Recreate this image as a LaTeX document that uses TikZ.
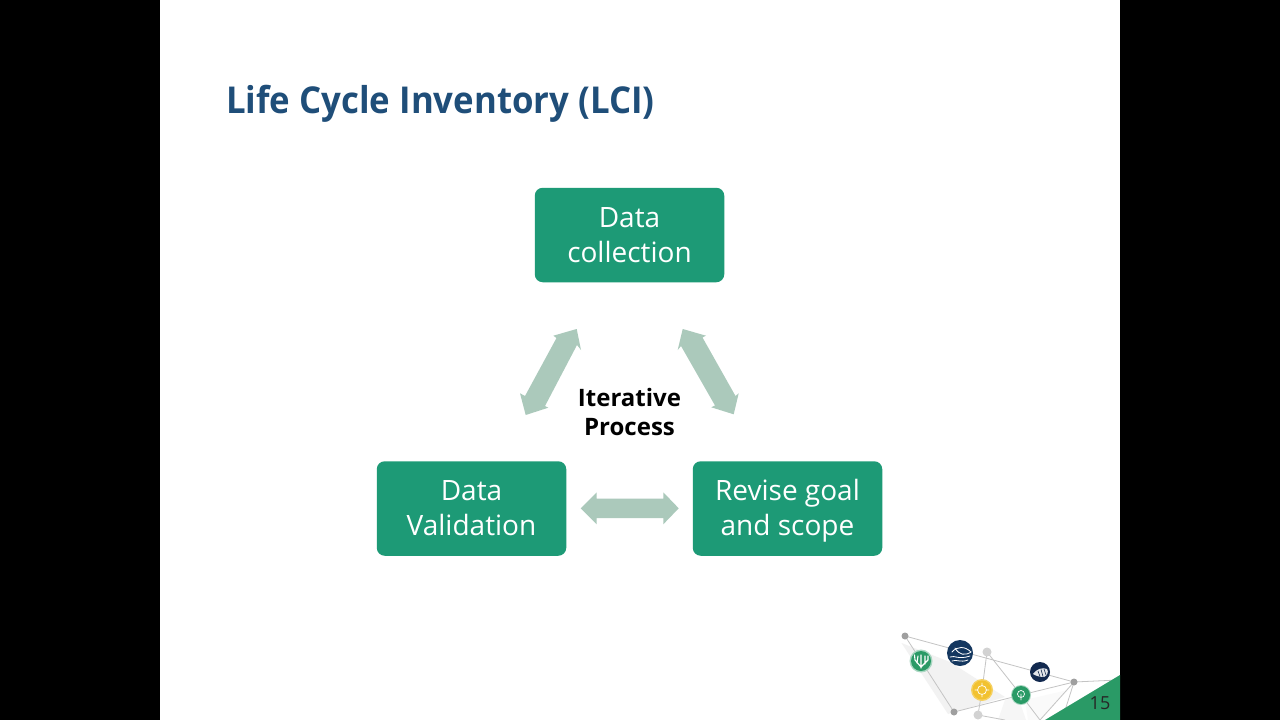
\documentclass[tikz,border=0pt]{standalone}
\usepackage{fontspec}
\setmainfont{Open Sans}
\newfontfamily\titlefont[FakeStretch=0.94]{Open Sans}
\definecolor{boxgreen}{HTML}{1D9A76}
\definecolor{arrowgreen}{HTML}{ABC9BB}
\definecolor{titleblue}{HTML}{1F4E79}
\definecolor{cornergreen}{HTML}{2A9A66}
\definecolor{navyA}{HTML}{14375F}
\definecolor{navyB}{HTML}{12294F}
\definecolor{goldc}{HTML}{F2C230}
\definecolor{netgray}{HTML}{C4C4C4}
\newcommand{\boxline}[1]{\strut #1}
\newcommand{\firstline}[1]{\rule{0pt}{29.5pt}\strut #1}
\tikzset{
  stepbox/.style={fill=boxgreen,rounded corners=8pt,minimum width=189.5pt,minimum height=94.5pt,inner sep=0pt,align=center,text=white,font=\fontsize{28}{35}\selectfont},
  blockarrow/.style={fill=arrowgreen,draw=none},
  netline/.style={draw=netgray,line width=0.8pt},
  netdot/.style={circle,fill=gray!75,minimum size=7pt,inner sep=0pt},
  netdotlight/.style={circle,fill=gray!35,minimum size=9pt,inner sep=0pt},
  badge/.style={circle,inner sep=0pt},
  glyph/.style={draw=white,line width=0.9pt,line cap=round}
}
\begin{document}
\begin{tikzpicture}[x=1pt,y=-1pt]
\useasboundingbox (0,0) rectangle (1280,720);
\fill[black] (0,0) rectangle (1280,720);
\fill[white] (160,0) rectangle (1120,720);

\node[anchor=west,inner sep=0pt,text=titleblue,font=\fontsize{37}{44}\selectfont\titlefont\bfseries] (title) at (226,103.5) {Life Cycle Inventory (LCI)};

\node[stepbox] (collect) at (629.5,235) {\firstline{Data}\\\boxline{collection}};
\node[stepbox] (valid) at (471.5,508.5) {\firstline{Data}\\\boxline{Validation}};
\node[stepbox] (revise) at (787.5,508.5) {\firstline{Revise goal}\\\boxline{and scope}};

\node[align=center,text=black,font=\fontsize{24}{29}\selectfont\bfseries] (iter) at (629.5,415.5) {\boxline{Iterative}\\\boxline{Process}};

\fill[blockarrow] (576.7,329) -- (581,350) -- (577,345) -- (545,406) -- (548.3,407.7) -- (525.7,415) -- (520,393.3) -- (525,396) -- (556.5,338) -- (553.3,335.7) -- cycle;
\fill[blockarrow] (682.7,329) -- (706,335.7) -- (702.5,337.5) -- (735.5,396) -- (738.7,393.3) -- (733.7,414.3) -- (711.3,407.3) -- (715,405.5) -- (681,346) -- (677.7,350) -- cycle;
\fill[blockarrow] (580.7,508.3) -- (596.7,492.3) -- (596.7,498.5) -- (663.3,498.5) -- (663.3,492.3) -- (678.7,508.3) -- (663.3,524.3) -- (663.3,518) -- (596.7,518) -- (596.7,524.3) -- cycle;

% logo
\fill[gray!10] (901.5,643) -- (948,714) -- (1005,697) -- (950,662) -- cycle;
\fill[gray!7] (1005,700) -- (1018,697) -- (1026,720) -- (998,720) -- cycle;
\fill[gray!4] (1025,700) -- (1068,690) -- (1040,720) -- (1028,720) -- cycle;
\coordinate (nA) at (905,636);
\coordinate (nB) at (954,712);
\coordinate (nC) at (987,652);
\coordinate (nD) at (1074,682);
\coordinate (nE) at (978,715);
\coordinate (nF) at (1021,695);
\coordinate (nG) at (982,690);
\coordinate (nH) at (1118,680);
\coordinate (nI) at (1040,720);
\coordinate (nJ) at (1062,720);
\coordinate (nK) at (1005,720);
\draw[netline] (nA) -- (nD) -- (nF) -- (nB) -- (nA);
\draw[netline] (nC) -- (nF) -- (nI);
\draw[netline] (nC) -- (nG) -- (nE) -- (nK);
\draw[netline] (nD) -- (nH);
\draw[netline] (nD) -- (nI);
\draw[netline] (nD) -- (nJ);
\node[netdot] (dA) at (nA) {};
\node[netdot] (dB) at (nB) {};
\node[netdot] (dD) at (nD) {};
\node[netdotlight] (dC) at (nC) {};
\node[netdotlight] (dE) at (nE) {};

% badges
\node[badge,fill=white!60!cornergreen,minimum size=23pt] (weedg) at (921,661) {};
\node[badge,fill=cornergreen,minimum size=20pt] (weed) at (921,661) {};
\draw[glyph,line width=1.1pt] (921,668) -- (921,655) (921,667) -- (915,660) (921,667) -- (928,660) (915,660) -- (914.5,655) (917,663) -- (918,656) (925,664) -- (925,656) (928,660) -- (928,656);
\node[badge,fill=navyA,minimum size=26pt] (fish) at (960,653) {};
\draw[glyph,line width=0.8pt] (952,652) .. controls (957,646) and (965,646) .. (971,652) .. controls (965,656) and (959,655) .. (955,648);
\draw[glyph,line width=0.8pt] (950,657) .. controls (955,655) and (958,660) .. (970,656);
\draw[glyph,line width=0.8pt] (952,661) .. controls (957,659) and (960,663) .. (968,660);
\node[badge,fill=navyB,minimum size=20pt] (shell) at (1040,672) {};
\fill[white!88!navyB] (1033,674) .. controls (1036,669) and (1043,667) .. (1047,669) .. controls (1049,672) and (1047,676) .. (1044,677) .. controls (1040,677) and (1036,676) .. (1033,674) -- cycle;
\draw[navyB,line width=0.6pt] (1038,671) -- (1040,676.5) (1041,669.5) -- (1043,676.5) (1044,669) -- (1046,675);
\node[badge,fill=goldc!75!white,minimum size=22pt] (targetg) at (982,690) {};
\node[badge,fill=goldc,minimum size=19pt] (target) at (982,690) {};
\draw[glyph,line width=0.7pt] (982,690) circle (4.5pt) (982,683) -- (982,686) (982,694) -- (982,697) (975,690) -- (978,690) (986,690) -- (989,690);
\node[badge,fill=white!60!cornergreen,minimum size=20pt] (treeg) at (1021,695) {};
\node[badge,fill=cornergreen,minimum size=18pt] (tree) at (1021,695) {};
\draw[glyph,line width=0.7pt] (1021,694) circle (3.5pt) (1021,694) -- (1021,700);

% corner and number
\fill[cornergreen] (1045,720) -- (1120,675) -- (1120,720) -- cycle;
\node[text=black!85,font=\fontsize{18}{22}\selectfont] (num) at (1100,703) {15};
\end{tikzpicture}
\end{document}
